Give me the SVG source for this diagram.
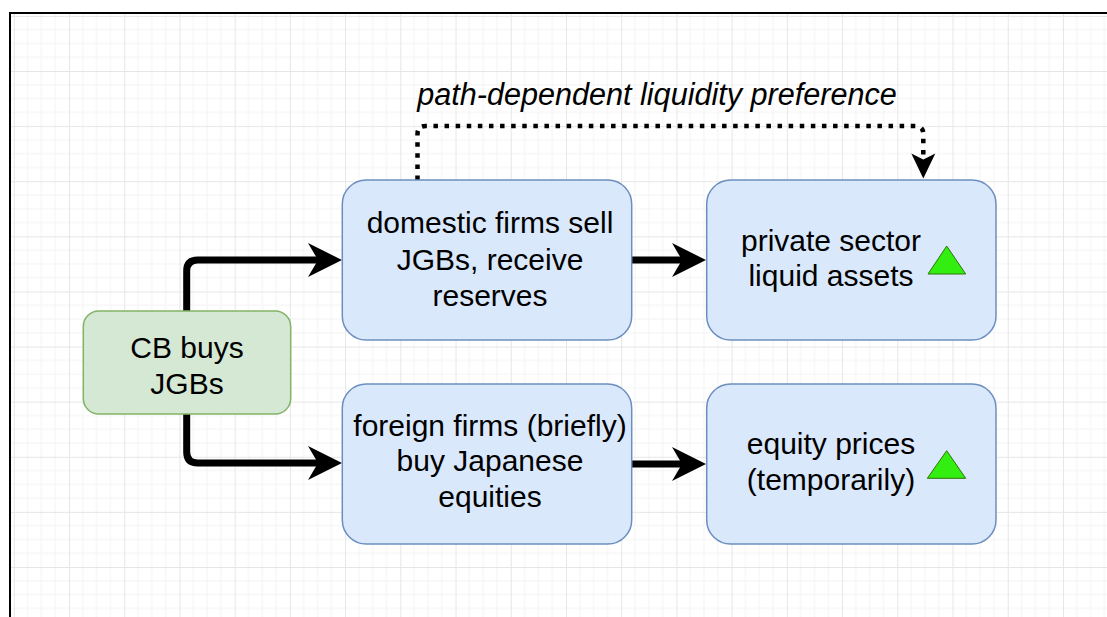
<svg xmlns="http://www.w3.org/2000/svg" width="1107" height="617" viewBox="0 0 1107 617">
  <defs>
    <pattern id="grid" patternUnits="userSpaceOnUse" x="13.78" y="15.9" width="55.22" height="55.11">
      <path d="M13.8,0V55.11M27.61,0V55.11M41.41,0V55.11M0,13.78H55.22M0,27.55H55.22M0,41.33H55.22" stroke="#f3f3f3" stroke-width="1" fill="none"/>
      <path d="M0.5,0V55.11M0,0.5H55.22" stroke="#e6e6e6" stroke-width="1" fill="none"/>
    </pattern>
    <marker id="arrowBold" markerUnits="userSpaceOnUse" viewBox="-36 -18 38 36" refX="-24" refY="0" markerWidth="38" markerHeight="36" orient="auto">
      <path d="M0,0 L-34,-17 L-24,0 L-34,17 Z" fill="#000"/>
    </marker>
    <marker id="arrowDot" markerUnits="userSpaceOnUse" viewBox="-27 -13 29 26" refX="-19" refY="0" markerWidth="29" markerHeight="26" orient="auto">
      <path d="M0,0 L-25,-12 L-19,0 L-25,12 Z" fill="#000"/>
    </marker>
    <style>
      .label { font-family: "Liberation Sans", Arial, Helvetica, sans-serif; font-size: 30px; fill: #000; text-anchor: middle; }
      .italic { font-style: italic; font-size: 30.6px; }
      .blue { fill: #dae8fc; stroke: #6c8ebf; stroke-width: 1.5; }
      .green { fill: #d5e8d4; stroke: #82b366; stroke-width: 1.5; }
      .up { fill: #33ee11; stroke: #2d7600; stroke-width: 1; }
      .flow { fill: none; stroke: #000; stroke-width: 7; marker-end: url(#arrowBold); }
      .dotted { fill: none; stroke: #000; stroke-width: 4.5; stroke-dasharray: 4.5 6.6; marker-end: url(#arrowDot); }
    </style>
  </defs>

  <!-- page and canvas frame -->
  <rect x="0" y="0" width="1107" height="617" fill="#fff"/>
  <rect x="10" y="13" width="1120" height="630" fill="#fff" stroke="#000" stroke-width="2"/>
  <rect x="11" y="14" width="1100" height="610" fill="url(#grid)"/>

  <!-- connectors -->
  <g id="connectors">
    <path class="flow" d="M186.7,311 V271 Q186.7,260 197.7,260 H318"/>
    <path class="flow" d="M186.7,414 V452 Q186.7,463 197.7,463 H318"/>
    <path class="flow" d="M632,260 H682"/>
    <path class="flow" d="M632,464 H682"/>
    <path class="dotted" d="M417.5,180 V134 Q417.5,126 425.5,126 H915 Q923.3,126 923.3,134 V159.5"/>
    <text class="label italic" x="657" y="105">path-dependent liquidity preference</text>
  </g>

  <g id="cb-buys">
    <rect class="green" x="83.3" y="311" width="207.4" height="103" rx="15.5" ry="15.5"/>
    <text class="label" x="187" y="357.5">CB buys</text>
    <text class="label" x="187" y="393.5">JGBs</text>
  </g>

  <g id="domestic-firms">
    <rect class="blue" x="342.3" y="180" width="289.4" height="160" rx="24" ry="24"/>
    <text class="label" x="490" y="233">domestic firms sell</text>
    <text class="label" x="490" y="269.5">JGBs, receive</text>
    <text class="label" x="490" y="306">reserves</text>
  </g>

  <g id="private-sector">
    <rect class="blue" x="706.7" y="180" width="289.3" height="160" rx="24" ry="24"/>
    <text class="label" x="831" y="250.7">private sector</text>
    <text class="label" x="831" y="285.5">liquid assets</text>
    <polygon class="up" points="946.7,246 928,274 965.7,274"/>
  </g>

  <g id="foreign-firms">
    <rect class="blue" x="342.3" y="384" width="289.4" height="160" rx="24" ry="24"/>
    <text class="label" x="490" y="435.7">foreign firms (briefly)</text>
    <text class="label" x="490" y="471">buy Japanese</text>
    <text class="label" x="490" y="506.7">equities</text>
  </g>

  <g id="equity-prices">
    <rect class="blue" x="706.7" y="384" width="289.3" height="160" rx="24" ry="24"/>
    <text class="label" x="831" y="454">equity prices</text>
    <text class="label" x="831" y="489.5">(temporarily)</text>
    <polygon class="up" points="946.7,450.7 927.3,478.3 965.7,478.3"/>
  </g>
</svg>
